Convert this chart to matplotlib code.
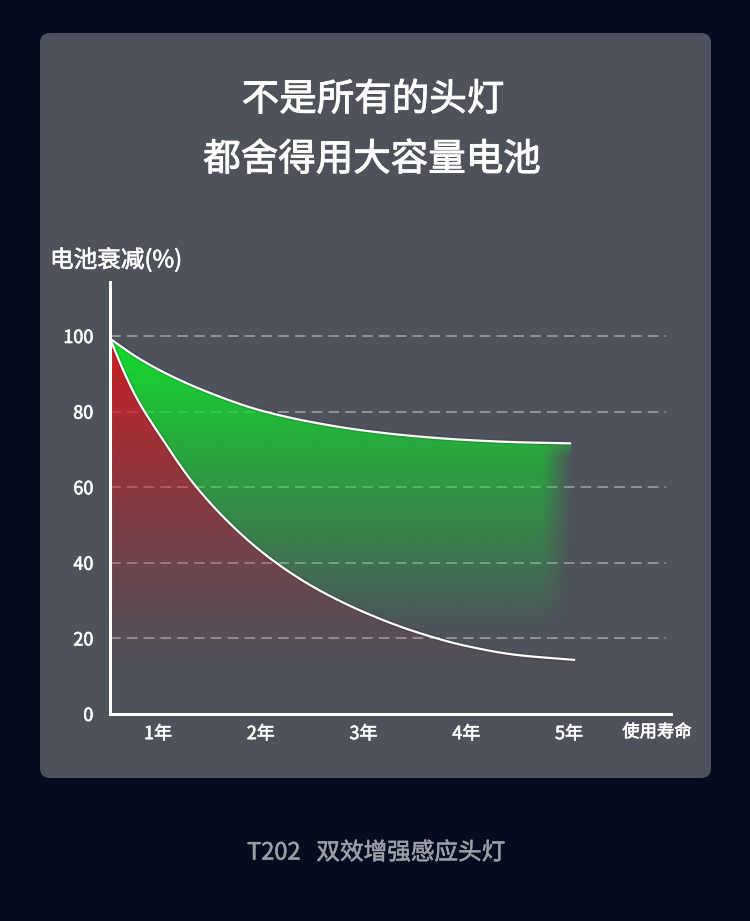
import numpy as np
import matplotlib
matplotlib.use("Agg")
import matplotlib.pyplot as plt
import matplotlib.patheffects as pe
from matplotlib.patches import FancyBboxPatch, Polygon

plt.rcParams['font.family'] = ['Noto Sans CJK SC', 'DejaVu Sans']

# values
title_lines = ["不是所有的头灯", "都舍得用大容量电池"]
y_title = "电池衰减(%)"
x_title = "使用寿命"
footer = "T202   双效增强感应头灯"
year_ticks = [1, 2, 3, 4, 5]
year_labels = ["1年", "2年", "3年", "4年", "5年"]
pct_ticks = [0, 20, 40, 60, 80, 100]

green_x = [0.533, 0.8, 1.1, 1.5, 2.0, 2.5, 3.0, 3.5, 4.0, 4.5, 5.02]
green_y = [99.3, 94.3, 89.8, 85.0, 80.3, 77.2, 75.0, 73.5, 72.5, 71.9, 71.6]
red_x = [0.533, 0.68, 0.8, 1.0, 1.36, 1.8, 2.12, 2.5, 3.0, 3.5, 4.0, 4.5, 5.06]
red_y = [99.3, 89.8, 83.2, 74.5, 60.5, 47.8, 40.6, 33.8, 27.0, 21.8, 18.0, 15.6, 14.3]

BG = "#050c1f"
PANEL = "#4e525b"
# a thin outline makes the regular face look like the medium one
MED = [pe.withStroke(linewidth=0.45, foreground='white')]


def pchip(x, y, xs):
    # monotone cubic so the curves are drawn smooth through the read points
    x = np.asarray(x, float)
    y = np.asarray(y, float)
    h = np.diff(x)
    d = np.diff(y) / h
    m = np.zeros_like(y)
    for k in range(1, len(x) - 1):
        if d[k - 1] * d[k] > 0:
            w1 = 2 * h[k] + h[k - 1]
            w2 = h[k] + 2 * h[k - 1]
            m[k] = (w1 + w2) / (w1 / d[k - 1] + w2 / d[k])
    m[0] = d[0]
    m[-1] = d[-1]
    idx = np.clip(np.searchsorted(x, xs) - 1, 0, len(h) - 1)
    t = (xs - x[idx]) / h[idx]
    h00 = 2 * t**3 - 3 * t**2 + 1
    h10 = t**3 - 2 * t**2 + t
    h01 = -2 * t**3 + 3 * t**2
    h11 = t**3 - t**2
    return (h00 * y[idx] + h10 * h[idx] * m[idx]
            + h01 * y[idx + 1] + h11 * h[idx] * m[idx + 1])


fig = plt.figure(figsize=(7.5, 9.21), dpi=100)
fig.patch.set_facecolor(BG)

# background layer in pixel coordinates
bg = fig.add_axes([0, 0, 1, 1])
bg.set_xlim(0, 750)
bg.set_ylim(921, 0)
bg.axis('off')
bg.add_patch(FancyBboxPatch((40, 33), 671, 745, boxstyle="round,pad=0,rounding_size=10",
                            fc=PANEL, ec='none'))
TMED = [pe.withStroke(linewidth=0.7, foreground='white')]
bg.text(373, 100, title_lines[0], color='white', fontsize=27, ha='center', va='center',
        path_effects=TMED)
bg.text(372, 160, title_lines[1], color='white', fontsize=27, ha='center', va='center',
        path_effects=TMED)
bg.text(50, 260, y_title, color='white', fontsize=17, ha='left', va='center', path_effects=MED)
bg.text(657, 732, x_title, color='white', fontsize=12.5, ha='center', va='center', path_effects=MED)
bg.text(376, 853, footer, color='#9c9ea6', fontsize=17, ha='center', va='center',
        path_effects=[pe.withStroke(linewidth=0.4, foreground='#9c9ea6')])

# chart
ax = fig.add_axes([110 / 750, (921 - 714) / 921, (671 - 110) / 750, (714 - 282) / 921])
ax.set_facecolor('none')
x0 = 1 + (110 - 158) / 102.75
x1 = 1 + (671 - 158) / 102.75
ax.set_xlim(x0, x1)
ax.set_ylim(0, (714 - 282) / 3.78)

for s in ['top', 'right']:
    ax.spines[s].set_visible(False)
for s in ['left', 'bottom']:
    ax.spines[s].set_color('white')
    ax.spines[s].set_linewidth(2.2)
    ax.spines[s].set_zorder(6)

gx_end = 1 + (666 - 158) / 102.75
for v in pct_ticks[1:]:
    ax.plot([x0, gx_end], [v, v], color='#a3a5ab', lw=1.1, dashes=(7, 4), zorder=1)

ax.set_xticks(year_ticks)
ax.set_xticklabels(year_labels)
ax.set_yticks(pct_ticks)
ax.set_yticklabels([str(v) for v in pct_ticks])
ax.tick_params(length=0, colors='white', labelsize=13, pad=12)
ax.tick_params(axis='x', pad=8)
for lab in ax.get_xticklabels() + ax.get_yticklabels():
    lab.set_path_effects(MED)

gxs = np.linspace(green_x[0], green_x[-1], 400)
gys = pchip(green_x, green_y, gxs)
rxs = np.linspace(red_x[0], red_x[-1], 400)
rys = pchip(red_x, red_y, rxs)

# gradient images clipped to the regions
ny, nx = 400, 400
yy = np.linspace(0, 100, ny)[:, None]
xx = np.linspace(x0, 5.1, nx)[None, :]

# red region: under the red curve
red_img = np.zeros((ny, nx, 4))
red_img[..., 0] = 215 / 255
red_img[..., 1] = 25 / 255
red_img[..., 2] = 30 / 255
a = np.clip((yy - 8) / (100 - 8), 0, 1) ** 1.3
red_img[..., 3] = np.broadcast_to(a * 0.95, (ny, nx))
red_poly = Polygon(np.vstack([np.column_stack([rxs, rys]), [[rxs[-1], 0], [x0, 0]]]),
                   closed=True, fc='none', ec='none', transform=ax.transData)
ax.add_patch(red_poly)
im = ax.imshow(red_img, extent=[x0, 5.1, 0, 100], origin='lower', aspect='auto',
               interpolation='bilinear', zorder=2)
im.set_clip_path(red_poly)

# green region: between the two curves
gred = pchip(red_x, red_y, gxs)
green_img = np.zeros((ny, nx, 4))
green_img[..., 0] = 18 / 255
green_img[..., 1] = 222 / 255
green_img[..., 2] = 45 / 255
a = np.clip((yy - 22) / (100 - 22), 0, 1) ** 1.0
fade = np.clip((5.03 - xx) / 0.3, 0, 1)
fade = fade + (1 - fade) * np.clip((yy - 68) / 6, 0, 1)
green_img[..., 3] = a * fade
green_poly = Polygon(np.vstack([np.column_stack([gxs, gys]),
                                np.column_stack([gxs[::-1], gred[::-1]])]),
                     closed=True, fc='none', ec='none', transform=ax.transData)
ax.add_patch(green_poly)
im2 = ax.imshow(green_img, extent=[x0, 5.1, 0, 100], origin='lower', aspect='auto',
                interpolation='bilinear', zorder=3)
im2.set_clip_path(green_poly)

# curves with a faint shadow
for xs, ys in [(gxs, gys), (rxs, rys)]:
    ax.plot(xs, ys, color='black', lw=3.5, alpha=0.12, zorder=4, solid_capstyle='butt')
    ax.plot(xs, ys, color='white', lw=1.6, zorder=5, solid_capstyle='butt')

ax.set_xlim(x0, x1)
ax.set_ylim(0, (714 - 282) / 3.78)

fig.savefig("out.png", dpi=100, facecolor=BG)
